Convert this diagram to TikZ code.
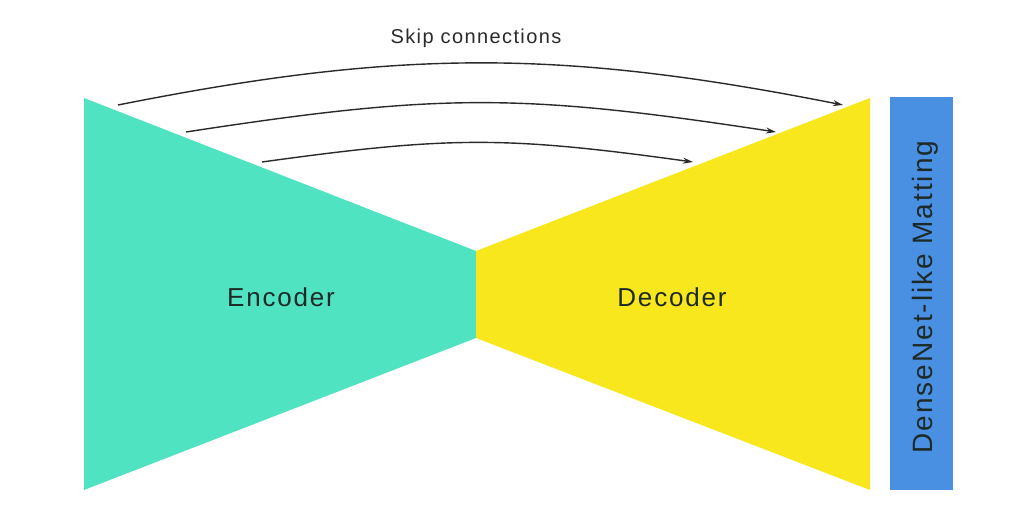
\documentclass[tikz,border=0pt]{standalone}
\usepackage{fontspec}
\setmainfont{Liberation Sans}
\usetikzlibrary{arrows.meta}
\definecolor{encteal}{HTML}{50E3C2}
\definecolor{decyellow}{HTML}{F8E71C}
\definecolor{barblue}{HTML}{4A90E2}
\definecolor{txtdark}{HTML}{1E2A28}
\definecolor{arrowgray}{HTML}{2A2A2A}
\tikzset{
  lbl/.style={inner sep=0pt, anchor=base, text=txtdark},
  skiparrow/.style={draw=arrowgray, line width=1.4pt, -{Stealth[length=10pt,width=6pt]}},
}
\begin{document}
\begin{tikzpicture}[x=1pt,y=-1pt]
\useasboundingbox[fill=white] (0,0) rectangle (1012,527);
% shapes
\fill[encteal] (84,98) -- (476,251) -- (476,338) -- (84,490) -- cycle;
\fill[decyellow] (476,251) -- (870,98) -- (870,490) -- (476,338) -- cycle;
\fill[barblue] (890,97) rectangle (953,490);
% labels
\node[lbl, font=\fontsize{26}{30}\selectfont\addfontfeature{LetterSpace=7}] (enc) at (281,306) {Encoder};
\node[lbl, font=\fontsize{26}{30}\selectfont\addfontfeature{LetterSpace=7}] (dec) at (672,306) {Decoder};
\node[lbl, rotate=90, font=\fontsize{28}{32}\selectfont\addfontfeature{LetterSpace=7}] (bar) at (932,297) {DenseNet-like Matting};
\node[lbl, text=arrowgray, font=\fontsize{20}{24}\selectfont\addfontfeature{LetterSpace=7}] (skip) at (476,44) {Skip connections};
% skip connection endpoints
\coordinate (s1) at (118,105);
\coordinate (e1) at (843,105);
\coordinate (s2) at (186,132);
\coordinate (e2) at (776,132);
\coordinate (s3) at (262,162);
\coordinate (e3) at (693,162);
\draw[skiparrow] (s1) .. controls (400,49) and (560,49) .. (e1);
\draw[skiparrow] (s2) .. controls (440,93) and (520,93) .. (e2);
\draw[skiparrow] (s3) .. controls (450,136) and (505,136) .. (e3);
\end{tikzpicture}
\end{document}
